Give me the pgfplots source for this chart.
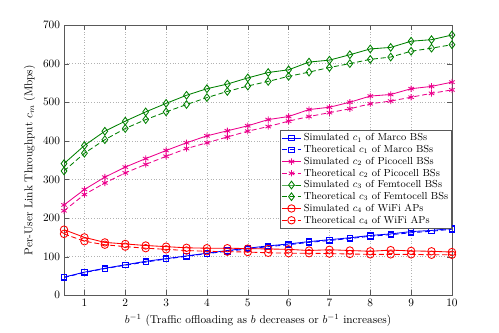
\documentclass[border=0pt]{standalone}
\usepackage{pgfplots}
\pgfplotsset{compat=1.18}
\definecolor{mgreen}{rgb}{0,0.5,0}
\begin{document}
\begin{tikzpicture}
\begin{axis}[
    at={(0,0)}, anchor=south west,
    scale only axis,
    width=343pt, height=239pt,
    xmin=0.5, xmax=10, ymin=0, ymax=700,
    xtick={1,...,10}, ytick={0,100,...,700},
    tick align=inside,
    axis line style={gray!70!black},
    major tick style={gray!70!black},
    grid=major,
    grid style={dotted, gray!60},
    xlabel={$b^{-1}$ (Traffic offloading as $b$ decreases or $b^{-1}$ increases)},
    ylabel={Per-User Link Throughput $c_m$ (Mbps)},
    legend cell align=left,
    legend style={at={(1,0.611)}, anchor=north east, draw=gray!70!black,
        font=\small, inner sep=1pt, row sep=-1.5pt},
    every axis plot/.append style={line width=0.75pt},
    theo/.style={dash pattern=on 4.5pt off 2.5pt},
]
\addplot[blue, mark=square, mark size=2.4pt, mark options={solid}] coordinates {
(0.5,47) (1,60) (1.5,70) (2,79) (2.5,88) (3,95) (3.5,102) (4,109) (4.5,116) (5,122)
(5.5,128) (6,133) (6.5,139) (7,144) (7.5,149) (8,155) (8.5,159) (9,165) (9.5,168) (10,173)};
\addlegendentry{Simulated $c_1$ of Marco BSs}
\addplot[blue, theo, mark=square, mark size=2.4pt, mark options={solid}] coordinates {
(0.5,46) (1,59) (1.5,69) (2,78) (2.5,86) (3,94) (3.5,101) (4,108) (4.5,114) (5,120)
(5.5,126) (6,131) (6.5,137) (7,142) (7.5,147) (8,153) (8.5,157) (9,162) (9.5,166) (10,171)};
\addlegendentry{Theoretical $c_1$ of Marco BSs}
\addplot[magenta, mark=asterisk, mark size=2.8pt, mark options={solid}] coordinates {
(0.5,234) (1,274) (1.5,306) (2,332) (2.5,354) (3,375) (3.5,395) (4,413) (4.5,426) (5,439)
(5.5,455) (6,463) (6.5,481) (7,487) (7.5,500) (8,516) (8.5,520) (9,535) (9.5,541) (10,552)};
\addlegendentry{Simulated $c_2$ of Picocell BSs}
\addplot[magenta, theo, mark=asterisk, mark size=2.8pt, mark options={solid}] coordinates {
(0.5,219) (1,261) (1.5,291) (2,317) (2.5,339) (3,360) (3.5,380) (4,395) (4.5,410) (5,425)
(5.5,437) (6,451) (6.5,463) (7,473) (7.5,483) (8,496) (8.5,503) (9,513) (9.5,523) (10,532)};
\addlegendentry{Theoretical $c_2$ of Picocell BSs}
\addplot[mgreen, mark=diamond, mark size=3.4pt, mark options={solid}] coordinates {
(0.5,341) (1,388) (1.5,425) (2,451) (2.5,475) (3,497) (3.5,518) (4,535) (4.5,547) (5,563)
(5.5,577) (6,584) (6.5,604) (7,609) (7.5,623) (8,638) (8.5,642) (9,658) (9.5,662) (10,674)};
\addlegendentry{Simulated $c_3$ of Femtocell BSs}
\addplot[mgreen, theo, mark=diamond, mark size=3.4pt, mark options={solid}] coordinates {
(0.5,322) (1,368) (1.5,403) (2,432) (2.5,455) (3,475) (3.5,494) (4,512) (4.5,528) (5,542)
(5.5,554) (6,567) (6.5,578) (7,590) (7.5,600) (8,611) (8.5,617) (9,632) (9.5,640) (10,649)};
\addlegendentry{Theoretical $c_3$ of Femtocell BSs}
\addplot[red, mark=o, mark size=3.3pt, mark options={solid}] coordinates {
(0.5,170) (1,150) (1.5,137) (2,133) (2.5,129) (3,126) (3.5,123) (4,122) (4.5,122) (5,121)
(5.5,120) (6,119) (6.5,116) (7,118) (7.5,116) (8,114) (8.5,117) (9,115) (9.5,114) (10,112)};
\addlegendentry{Simulated $c_4$ of WiFi APs}
\addplot[red, theo, mark=o, mark size=3.3pt, mark options={solid}] coordinates {
(0.5,159) (1,140) (1.5,131) (2,126) (2.5,122) (3,119) (3.5,116) (4,114) (4.5,113) (5,112)
(5.5,110) (6,109) (6.5,109) (7,108) (7.5,107) (8,106) (8.5,106) (9,106) (9.5,105) (10,105)};
\addlegendentry{Theoretical $c_4$ of WiFi APs}
\end{axis}
\path (-56.6pt,-32.7pt) rectangle (384.6pt,261.1pt);
\end{tikzpicture}
\end{document}
